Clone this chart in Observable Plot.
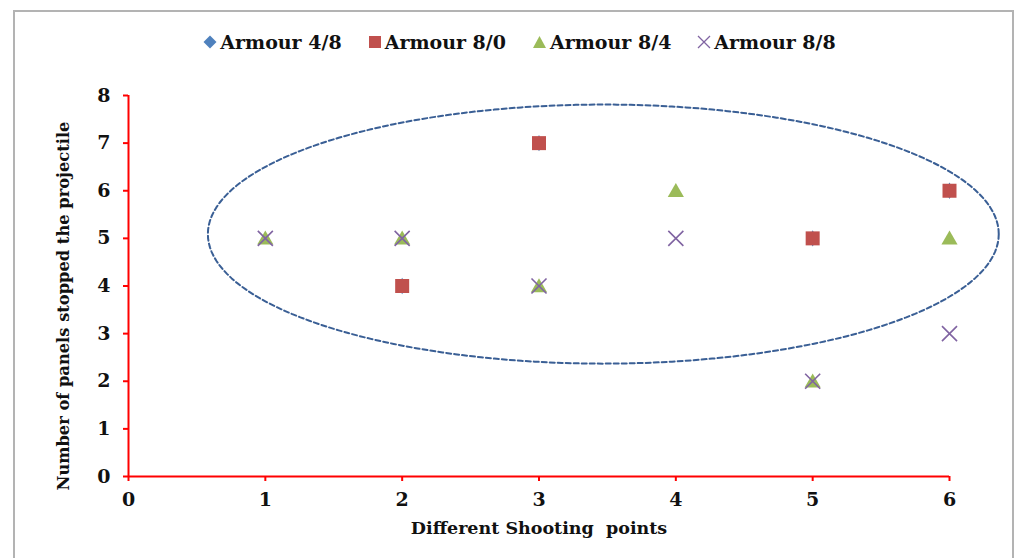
<!DOCTYPE html>
<html>
<head>
<meta charset="utf-8">
<script src="https://cdn.jsdelivr.net/npm/d3@7"></script>
<script src="https://cdn.jsdelivr.net/npm/@observablehq/plot@0.6"></script>
<style>
  html, body { margin: 0; padding: 0; background: #fff; }
  #wrap { position: relative; width: 1017px; height: 558px; overflow: hidden; font-family: "DejaVu Serif", serif; }
  #frame { position: absolute; left: 13px; top: 10px; width: 1001px; height: 600px; border: 2px solid #b3b3b3; box-sizing: border-box; }
  #legend { position: relative; height: 70px; display: flex; justify-content: center; align-items: center; padding-left: 22px; padding-top: 14px; box-sizing: border-box; gap: 26px; font-weight: bold; font-size: 19px; color: #111; }
  .item { display: flex; align-items: center; gap: 3px; }
  #chart { position: relative; }
</style>
</head>
<body>
<div id="wrap">
  <div id="frame"></div>
  <div id="legend"></div>
  <div id="chart"></div>
</div>
<script>
// ---- data ----
const shootingPoints = [1, 2, 3, 4, 5, 6];
const armour48 = [null, 4, 7, null, 5, 6];   // hidden beneath the squares
const armour80 = [null, 4, 7, null, 5, 6];
const armour84 = [5, 5, 4, 6, 2, 5];
const armour88 = [5, 5, 4, 5, 2, 3];
const seriesNames = ["Armour 4/8", "Armour 8/0", "Armour 8/4", "Armour 8/8"];
const seriesColors = ["#4F81BD", "#C0504D", "#9BBB59", "#8064A2"];
const xTicks = [0, 1, 2, 3, 4, 5, 6];
const yTicks = [0, 1, 2, 3, 4, 5, 6, 7, 8];
const xTitle = "Different Shooting  points";
const yTitle = "Number of panels stopped the projectile";
// highlight ellipse (data units)
const ellipseCenter = [3.47, 5.09];
const ellipseRadii = [2.89, 2.72];

const toRows = (vals) => shootingPoints.map((x, i) => ({x, y: vals[i]})).filter(d => d.y != null);

const ellipse = d3.range(0, 361, 2).map(a => {
  const t = a * Math.PI / 180;
  return {x: ellipseCenter[0] + ellipseRadii[0] * Math.cos(t), y: ellipseCenter[1] + ellipseRadii[1] * Math.sin(t)};
});

// ---- legend ----
const legendSvgs = [
  `<svg width="14" height="14"><path d="M7 0.5 L13.5 7 L7 13.5 L0.5 7 Z" fill="${seriesColors[0]}"/></svg>`,
  `<svg width="14" height="14"><rect x="1" y="1" width="12" height="12" fill="${seriesColors[1]}"/></svg>`,
  `<svg width="15" height="14"><path d="M7.5 1 L14 13 L1 13 Z" fill="${seriesColors[2]}"/></svg>`,
  `<svg width="14" height="14"><path d="M1 1 L13 13 M1 13 L13 1" stroke="${seriesColors[3]}" stroke-width="1.3" fill="none"/></svg>`
];
const legend = document.getElementById("legend");
seriesNames.forEach((name, i) => {
  const el = document.createElement("div");
  el.className = "item";
  el.innerHTML = legendSvgs[i] + `<span>${name}</span>`;
  legend.appendChild(el);
});

// ---- chart ----
const chart = Plot.plot({
  width: 1017,
  height: 488,
  marginTop: 25,
  marginBottom: 82,
  marginLeft: 128,
  marginRight: 68,
  style: {fontFamily: "DejaVu Serif", fontSize: "19px", fontWeight: "bold", color: "#111", background: "transparent", overflow: "visible"},
  x: {domain: [0, 6]},
  y: {domain: [0, 8]},
  marks: [
    Plot.line(ellipse, {x: "x", y: "y", stroke: "#3A5F95", strokeWidth: 2, strokeDasharray: "5,3", clip: false}),
    Plot.ruleY([0], {stroke: "#FF0000", strokeWidth: 2}),
    Plot.ruleX([0], {stroke: "#FF0000", strokeWidth: 2}),
    Plot.axisX({ticks: xTicks, tickSize: 5, tickPadding: 11, stroke: "#FF0000", strokeWidth: 2, label: null, tickFormat: d => d}),
    Plot.axisY({ticks: yTicks, tickSize: 5, tickPadding: 13, stroke: "#FF0000", strokeWidth: 2, label: null, tickFormat: d => d}),
    Plot.dot(toRows(armour48), {x: "x", y: "y", symbol: "diamond", r: 5, fill: seriesColors[0]}),
    Plot.dot(toRows(armour80), {x: "x", y: "y", symbol: "square", r: 7.9, fill: seriesColors[1]}),
    Plot.dot(toRows(armour84), {x: "x", y: "y", symbol: "triangle", r: 6, fill: seriesColors[2], dy: 1.5}),
    Plot.dot(toRows(armour88), {x: "x", y: "y", symbol: "times", r: 6.9, stroke: seriesColors[3], strokeWidth: 1.6}),
    Plot.text([xTitle], {frameAnchor: "bottom", dy: 57, fontSize: 17.5, text: d => d}),
    Plot.text([yTitle], {frameAnchor: "left", textAnchor: "middle", dx: -65, dy: 20, rotate: -90, fontSize: 16.3, text: d => d})
  ]
});
document.getElementById("chart").appendChild(chart);
</script>
</body>
</html>
